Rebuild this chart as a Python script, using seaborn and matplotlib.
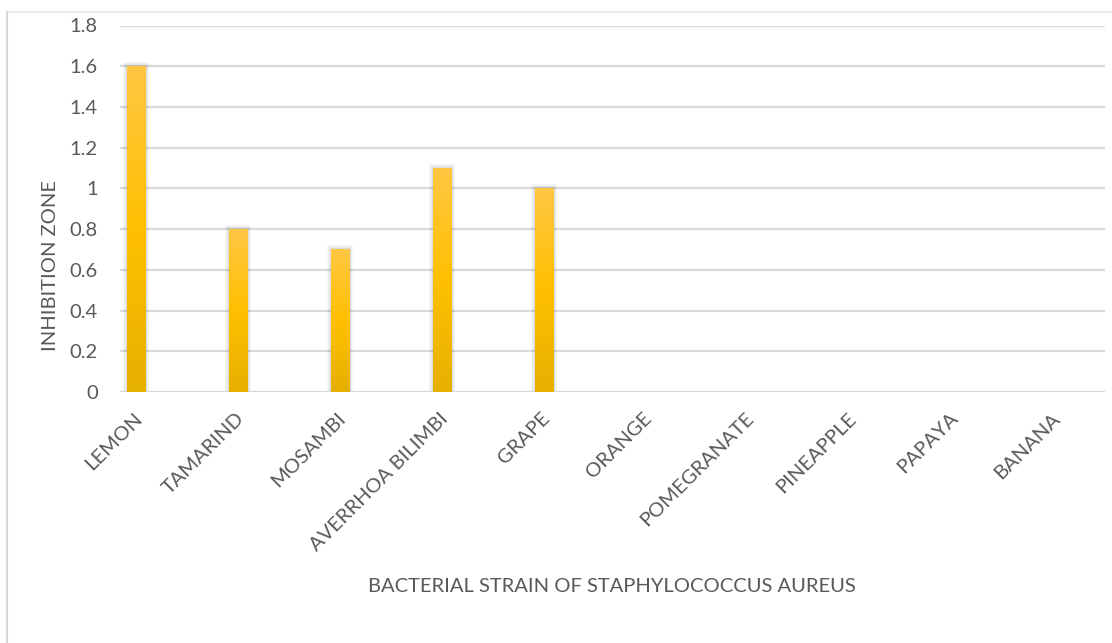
import numpy as np
import pandas as pd
import matplotlib
matplotlib.use("Agg")
import matplotlib.pyplot as plt
import matplotlib.patheffects as pe
import matplotlib.transforms as mtransforms
from matplotlib.lines import Line2D
from matplotlib.colors import LinearSegmentedColormap
import seaborn as sns

# Inhibition zone per fruit extract against Staphylococcus aureus
fruits = ["LEMON", "TAMARIND", "MOSAMBI", "AVERRHOA BILIMBI", "GRAPE",
          "ORANGE", "POMEGRANATE", "PINEAPPLE", "PAPAYA", "BANANA"]
inhibition = [1.6, 0.8, 0.7, 1.1, 1.0, 0, 0, 0, 0, 0]
y_ticks = [0, 0.2, 0.4, 0.6, 0.8, 1, 1.2, 1.4, 1.6, 1.8]
y_tick_labels = ["0", "0.2", "0.4", "0.6", "0.8", "1", "1.2", "1.4", "1.6", "1.8"]

df = pd.DataFrame({"fruit": fruits, "zone": inhibition})

sns.set_theme(style="white")
plt.rcParams["font.family"] = ["Lato", "DejaVu Sans"]
TEXT = "#595959"
GRID = "#D9D9D9"
FS = 14.5

W, H = 1112, 643
fig = plt.figure(figsize=(W / 100, H / 100), dpi=100)
fig.patch.set_facecolor("white")

# plot area in pixel terms
left_px, right_px, top_px, bottom_px = 120, 1105, 25.5, 392
ax = fig.add_axes([left_px / W, 1 - bottom_px / H,
                   (right_px - left_px) / W, (bottom_px - top_px) / H])

sns.barplot(data=df, x="fruit", y="zone", ax=ax, color="#FFC000",
            width=0.18, linewidth=0, saturation=1, errorbar=None)

ax.set_ylim(0, 1.8)
ax.set_xlim(-0.16, 9.5)
ax.set_yticks(y_ticks)
ax.set_yticklabels(y_tick_labels)
ax.set_xlabel("")
ax.set_ylabel("")

for s in ax.spines.values():
    s.set_visible(False)
ax.yaxis.grid(True, color=GRID, linewidth=1.6)
ax.xaxis.grid(False)
ax.set_axisbelow(True)
ax.axhline(0, color=GRID, linewidth=2.0, zorder=1)

ax.tick_params(axis="y", length=0, pad=16, labelsize=FS, labelcolor=TEXT)
ax.tick_params(axis="x", length=0, pad=17, labelsize=FS, labelcolor=TEXT)
shift = mtransforms.ScaledTranslation(3 / 100, 0, fig.dpi_scale_trans)
for lab in ax.get_xticklabels():
    lab.set_rotation(45)
    lab.set_rotation_mode("anchor")
    lab.set_ha("right")
    lab.set_va("center")
    lab.set_transform(lab.get_transform() + shift)

# vertical gold gradient with a soft grey shadow on every bar
grad = LinearSegmentedColormap.from_list(
    "gold", ["#E6B000", "#FFC000", "#FFC743"])
gimg = np.linspace(0, 1, 256).reshape(-1, 1)
shadow = [pe.Stroke(linewidth=6, foreground="#000000", alpha=0.03),
          pe.Stroke(linewidth=4, foreground="#000000", alpha=0.05),
          pe.Stroke(linewidth=2, foreground="#000000", alpha=0.07),
          pe.Normal()]
for patch in ax.patches:
    h = patch.get_height()
    if h <= 0:
        patch.set_visible(False)
        continue
    patch.set_path_effects(shadow)
    x0 = patch.get_x()
    w = patch.get_width()
    im = ax.imshow(gimg, cmap=grad, origin="lower", aspect="auto",
                   extent=[x0, x0 + w, 0, h], zorder=patch.get_zorder() + 0.1)
    im.set_clip_path(patch)
ax.set_xlim(-0.16, 9.5)
ax.set_ylim(0, 1.8)

# axis titles
fig.text(51 / W, 1 - 266 / H, "INHIBITION ZONE", rotation=90,
         ha="center", va="center", fontsize=FS, color=TEXT)
fig.text(612 / W, 1 - 587 / H, "BACTERIAL STRAIN OF STAPHYLOCOCCUS AUREUS",
         ha="center", va="center", fontsize=FS, color=TEXT)

# chart frame edges
fig.add_artist(Line2D([7 / W, 1], [1 - 12 / H, 1 - 12 / H],
                      transform=fig.transFigure, color="#EBEBEB", linewidth=1.5))
fig.add_artist(Line2D([7 / W, 7 / W], [0, 1 - 12 / H],
                      transform=fig.transFigure, color="#D9D9D9", linewidth=1.5))

fig.savefig("out.png", dpi=100, facecolor="white")
